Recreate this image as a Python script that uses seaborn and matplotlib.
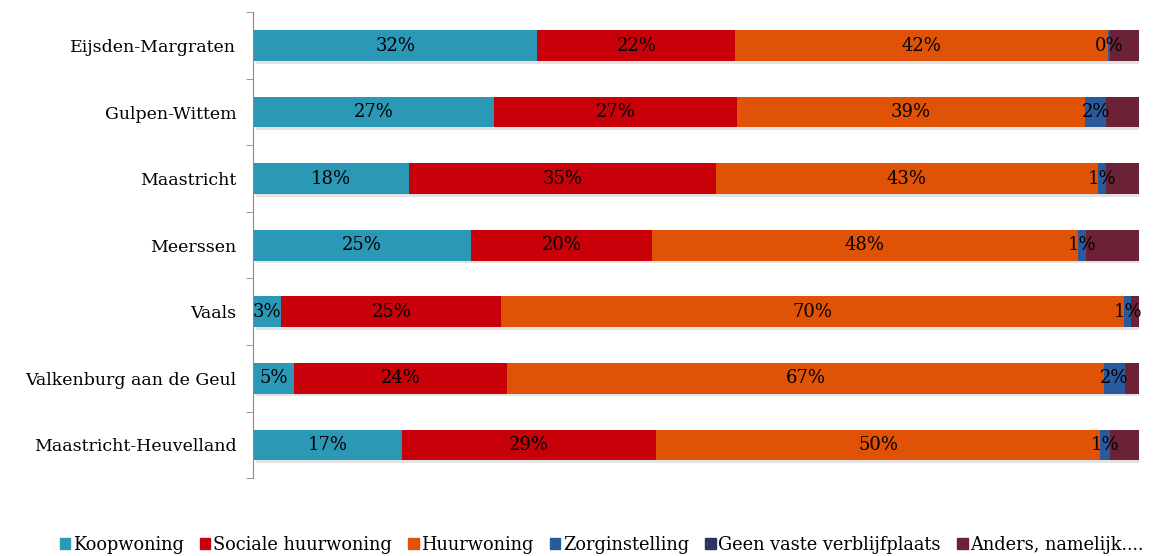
import numpy as np
import pandas as pd
import matplotlib
matplotlib.use("Agg")
import matplotlib.pyplot as plt
import seaborn as sns
from matplotlib.patches import Patch
import matplotlib.patheffects as pe

# Data (in %)
regions = ["Eijsden-Margraten", "Gulpen-Wittem", "Maastricht", "Meerssen",
           "Vaals", "Valkenburg aan de Geul", "Maastricht-Heuvelland"]
series = ["Koopwoning", "Sociale huurwoning", "Huurwoning", "Zorginstelling",
          "Geen vaste verblijfplaats", "Anders, namelijk...."]
koop = [32.1, 27.2, 17.6, 24.6, 3.2, 4.6, 16.8]
sociaal = [22.3, 27.4, 34.6, 20.4, 24.8, 24.1, 28.7]
huur = [42.1, 39.3, 43.1, 48.1, 70.3, 67.3, 50.1]
zorg = [0.2, 2.4, 1.0, 0.9, 0.8, 2.4, 1.1]
geen = [0.0, 0.0, 0.0, 0.0, 0.0, 0.0, 0.0]
anders = [3.3, 3.7, 3.7, 6.0, 0.9, 1.6, 3.3]
labelled = [True, True, True, True, False, False]

colors = ["#2b98b6", "#c8000a", "#e05206", "#2a5a9c", "#2c3462", "#6c2236"]

df = pd.DataFrame({"region": regions})
for name, vals in zip(series, [koop, sociaal, huur, zorg, geen, anders]):
    df[name] = vals
cum = df[series].cumsum(axis=1)

sns.set_style("white")
plt.rcParams["font.family"] = ["DejaVu Serif"]
plt.rcParams["text.color"] = "black"
plt.rcParams["ytick.color"] = "black"

fig = plt.figure(figsize=(11.66, 5.56), dpi=100)
ax = fig.add_axes([0.217, 0.140, 0.760, 0.838])

# stacked bars: draw cumulative totals from the largest down
for i in range(len(series) - 1, -1, -1):
    sns.barplot(x=cum[series[i]], y=df["region"], color=colors[i], orient="h",
                width=0.46, ax=ax, saturation=1, linewidth=0)

# soft shadow under each full bar
for p in ax.patches[:len(regions)]:
    p.set_path_effects([pe.SimplePatchShadow(offset=(2, -2), alpha=0.12), pe.Normal()])

for i, name in enumerate(series):
    if not labelled[i]:
        continue
    left = cum[name] - df[name]
    for j in range(len(regions)):
        xc = left[j] + df[name][j] / 2
        ax.text(xc, j, f"{df[name][j]:.0f}%", ha="center", va="center",
                fontsize=13, color="black")

ax.set_xlim(0, 100)
ax.set_ylim(6.5, -0.5)
ax.set_xlabel("")
ax.set_ylabel("")
ax.set_xticks([])
ax.set_yticks(range(len(regions)))
ax.set_yticklabels(regions, fontsize=12.5, color="black")
ax.set_yticks(np.arange(-0.5, 7, 1), minor=True)
ax.tick_params(axis="y", which="major", length=0, pad=12)
ax.tick_params(axis="y", which="minor", length=5, color="#888888", left=True)
for s in ["top", "right", "bottom"]:
    ax.spines[s].set_visible(False)
ax.spines["left"].set_color("#888888")

handles = [Patch(color=c, label=s) for c, s in zip(colors, series)]
fig.legend(handles=handles, loc="lower center", bbox_to_anchor=(0.516, -0.025),
           ncol=6, frameon=False, fontsize=12.8, handlelength=0.6, handleheight=0.6,
           handletextpad=0.15, columnspacing=0.9)

fig.savefig("out.png", dpi=100)
